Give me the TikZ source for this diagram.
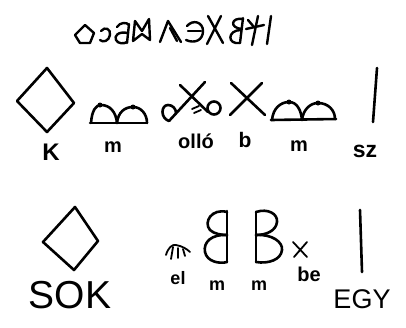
\documentclass[tikz,border=0pt]{standalone}
\usepackage{fontspec}
\setmainfont{Liberation Sans}
\begin{document}
\begin{tikzpicture}[x=1pt,y=-1pt,
  glyph/.style={line width=2.6pt,line cap=round,line join=round},
  rune/.style={line width=2.4pt,line cap=round,line join=round},
  thinglyph/.style={line width=1.8pt,line cap=round,line join=round},
  lbl/.style={inner sep=0pt,anchor=base,font=\bfseries}]
\useasboundingbox[fill=white] (0,0) rectangle (406,327);

% ---- top row of runes ----
\draw[rune] (75,35) -- (85,25) -- (94,33) -- (90,43) -- (80,43) -- cycle;
\draw[rune] (101,31) .. controls (105,26) and (111,29) .. (110,35) .. controls (109,41) and (103,43) .. (100,40);
\draw[rune] (129,24) -- (127,43);
\draw[rune] (117,27) .. controls (120,22) and (127,22) .. (129,25);
\draw[rune] (128,33) .. controls (118,31) and (114,36) .. (116,40) .. controls (118,44) and (124,44) .. (127,42);
\draw[rune] (133,41) -- (135,21) -- (142,31) -- (149,19) -- (150,40) -- (142,34) -- cycle;
\draw[rune] (160,42) -- (168,21) -- (181,42);
\draw[rune] (170,28) -- (177,41);
\draw[rune] (187,26) .. controls (193,19) and (203,22) .. (203,31) .. controls (203,40) and (195,44) .. (186,40);
\draw[rune] (188,31) -- (201,31);
\draw[rune] (208,16) -- (223,43);
\draw[rune] (221,16) -- (207,44);
\draw[rune] (243,18) -- (240,43);
\draw[rune] (243,19) .. controls (231,17) and (229,28) .. (242,29);
\draw[rune] (241,30) .. controls (227,30) and (227,45) .. (240,43);
\draw[rune] (252,45) -- (258,16);
\draw[rune] (246,29) -- (264,25);
\draw[rune] (248,20) -- (254,27);
\draw[rune] (271,16) -- (267,44);

% ---- row 1 ----
\draw[glyph] (47,68) -- (74,103) -- (47,132) -- (17,101) -- cycle;
\node[lbl,font=\fontsize{24}{24}\selectfont\bfseries] (lK) at (51,160) {K};

\draw[glyph] (90,123) -- (147,123);
\draw[glyph] (91,123) .. controls (92,110) and (96,105) .. (101,105) .. controls (110,105) and (116,112) .. (117,123);
\draw[glyph] (117,123) .. controls (118,112) and (125,107) .. (133,107) .. controls (141,107) and (147,114) .. (147,123);
\fill (100,105) circle (2.5pt) (133,107) circle (2.5pt);
\node[lbl,font=\fontsize{20}{20}\selectfont\bfseries] (lm1) at (113,152) {m};

\draw[glyph] (169,121) -- (205,82);
\draw[glyph] (169,121) .. controls (160,118) and (161,105) .. (168,105) .. controls (173,105) and (176,109) .. (176,113);
\draw[glyph] (180,85) -- (208,112);
\draw[thinglyph] (192,109) -- (199,106) (194,113) -- (201,110);
\draw[glyph] (214,108) circle (6.5pt);
\node[lbl,font=\fontsize{20}{20}\selectfont\bfseries] (lollo) at (196,148) {olló};

\draw[glyph] (231,83) -- (265,115);
\draw[glyph] (262,83) -- (230,115);
\node[lbl,font=\fontsize{21}{21}\selectfont\bfseries] (lb) at (245,147) {b};

\draw[glyph] (271,120) -- (336,119);
\draw[glyph] (272,120) .. controls (273,108) and (281,102) .. (289,102) .. controls (297,102) and (301,110) .. (302,120);
\draw[glyph] (302,120) .. controls (303,110) and (310,103) .. (318,103) .. controls (328,103) and (335,110) .. (335,119);
\fill (289,102) circle (2.5pt) (318,103) circle (2.5pt);
\node[lbl,font=\fontsize{20}{20}\selectfont\bfseries] (lm2) at (299,151) {m};

\draw[glyph] (377,68) -- (373,122);
\node[lbl,font=\fontsize{23}{23}\selectfont\bfseries] (lsz) at (365,157) {sz};

% ---- row 2 ----
\draw[glyph] (75,207) -- (98,241) -- (74,270) -- (43,242) -- cycle;
\node[lbl,font=\fontsize{39}{39}\selectfont] (lsok) at (70,308) {SOK};

\draw[thinglyph] (166,255) .. controls (168,248) and (172,244) .. (176,245) .. controls (182,246) and (187,249) .. (190,252);
\draw[thinglyph] (173,247) -- (171,259) (178,248) -- (178,258) (183,249) -- (185,256);
\node[lbl,font=\fontsize{18}{18}\selectfont\bfseries] (lel) at (178,284) {el};

\draw[glyph] (227,211) -- (227,262);
\draw[glyph] (227,212) .. controls (212,208) and (203,222) .. (210,230) .. controls (214,234) and (222,235) .. (227,235);
\draw[glyph] (227,235) .. controls (212,234) and (203,242) .. (205,252) .. controls (207,262) and (220,264) .. (227,262);
\node[lbl,font=\fontsize{18}{18}\selectfont\bfseries] (lm3) at (217,290) {m};

\draw[glyph] (256,212) -- (256,262);
\draw[glyph] (256,212) .. controls (268,208) and (278,214) .. (277,222) .. controls (276,231) and (266,235) .. (256,235);
\draw[glyph] (256,235) .. controls (272,234) and (283,242) .. (282,250) .. controls (281,260) and (268,264) .. (256,262);
\node[lbl,font=\fontsize{18}{18}\selectfont\bfseries] (lm4) at (259,290) {m};

\draw[thinglyph] (293,242) -- (307,257) (307,242) -- (294,257);
\node[lbl,font=\fontsize{20}{20}\selectfont\bfseries] (lbe) at (309,281) {be};

\draw[glyph] (360,210) -- (362,272);
\node[lbl,font=\fontsize{27}{27}\selectfont] (legy) at (362,308) {EGY};
\end{tikzpicture}
\end{document}
